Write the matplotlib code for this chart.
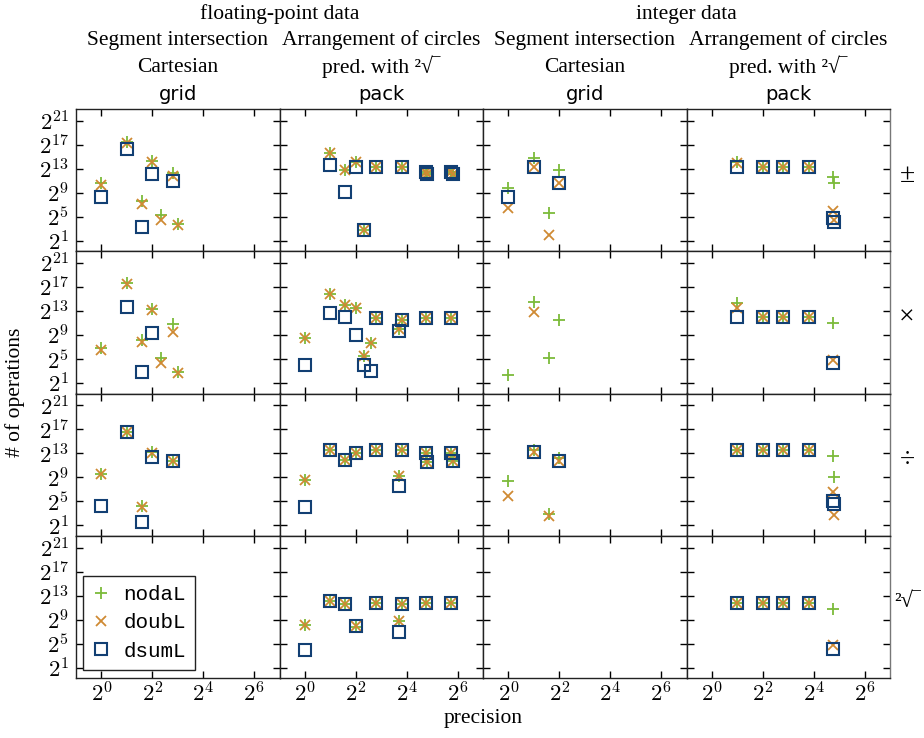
import numpy as np
import matplotlib
matplotlib.use('Agg')
import matplotlib.pyplot as plt
from matplotlib.ticker import FixedLocator, FuncFormatter, NullLocator

nan = np.nan

# operations (rows) and series
op_labels = ['±', '×', '÷', '²√‾']
op_sizes = [20, 20, 20, 16]
series_names = ['nodaL', 'doubL', 'dsumL']

# log2(# of operations), one inner list per operation row (±, ×, ÷, sqrt)
# floating-point data, segment intersection, Cartesian grid
fp_grid_prec = [1, 2, 3, 4, 5, 7, 8]
fp_grid_nodaL = [[10.6, 17.5, 7.6, 14.3, 5.3, 12.3, 3.85],
                 [6.8, 17.7, 8.2, 13.3, 5.2, 10.9, 2.9],
                 [9.6, 16.5, 4.2, 13.3, nan, 11.8, nan],
                 [nan] * 7]
fp_grid_doubL = [[10.3, 17.3, 7.2, 14.1, 4.5, 11.9, 3.6],
                 [6.5, 17.6, 7.9, 13.2, 4.3, 9.5, 2.7],
                 [9.5, 16.5, 4.0, 13.0, nan, 11.8, nan],
                 [nan] * 7]
fp_grid_dsumL = [[8.4, 16.4, 3.3, 12.2, nan, 11.0, nan],
                 [nan, 13.7, 2.9, 9.3, nan, nan, nan],
                 [4.3, 16.5, 1.6, 12.4, nan, 11.8, nan],
                 [nan] * 7]

# floating-point data, arrangement of circles, pred. with sqrt, pack
fp_pack_prec = [1, 2, 3, 4, 5, 6, 7, 13, 14, 27, 28, 54, 56]
fp_pack_nodaL = [[nan, 15.7, 12.8, 14.1, 2.9, nan, 13.3, nan, 13.3, 12.55, 12.2, 12.55, 12.1],
                 [8.55, 15.9, 13.96, 13.56, 5.6, 7.65, 11.9, 10.0, 11.6, 11.9, nan, 11.9, nan],
                 [8.5, 13.5, 11.96, 13.0, nan, nan, 13.5, 9.3, 13.5, 13.1, 11.6, 13.1, 11.7],
                 [8.15, 12.2, 11.67, 7.8, nan, nan, 11.8, 8.8, 11.67, 11.8, nan, 11.8, nan]]
fp_pack_doubL = [[nan, 15.7, 12.8, 14.1, 2.9, nan, 13.3, nan, 13.3, 12.55, 12.2, 12.55, 12.1],
                 [8.55, 15.9, 13.96, 13.56, 5.6, 7.65, 11.9, 10.0, 11.6, 11.9, nan, 11.9, nan],
                 [8.5, 13.5, 11.96, 13.0, nan, nan, 13.5, 9.3, 13.5, 13.1, 11.6, 13.1, 11.7],
                 [8.15, 12.2, 11.67, 8.0, nan, nan, 11.8, 8.8, 11.67, 11.8, nan, 11.8, nan]]
fp_pack_dsumL = [[nan, 13.7, 9.2, 13.3, 2.9, nan, 13.3, nan, 13.3, 12.55, 12.2, 12.55, 12.1],
                 [4.04, 12.7, 12.1, 9.06, 4.04, 3.03, 11.9, 9.7, 11.6, 11.9, nan, 11.9, nan],
                 [4.1, 13.5, 11.96, 13.0, nan, nan, 13.5, 7.6, 13.5, 13.1, 11.6, 13.1, 11.7],
                 [3.9, 12.2, 11.67, 8.0, nan, nan, 11.8, 6.9, 11.67, 11.8, nan, 11.8, nan]]

# integer data, segment intersection, Cartesian grid
int_grid_prec = [1, 2, 3, 4]
int_grid_nodaL = [[9.76, 14.9, 5.7, 12.8],
                  [2.35, 14.5, 5.2, 11.6],
                  [8.36, 13.5, 2.9, 12.3],
                  [nan] * 4]
int_grid_doubL = [[6.5, 13.25, 2.0, 10.7],
                  [nan, 12.8, nan, nan],
                  [5.94, 13.2, 2.6, 11.7],
                  [nan] * 4]
int_grid_dsumL = [[8.3, 13.25, nan, 10.7],
                  [nan] * 4,
                  [nan, 13.2, nan, 11.7],
                  [nan] * 4]

# integer data, arrangement of circles, pred. with sqrt, pack
int_pack_prec = [2, 4, 7, 14, 27, 28]
int_pack_nodaL = [[14.1, 13.25, 13.25, 13.25, 11.7, 10.7],
                  [14.4, 12.0, 12.0, 12.0, 11.0, nan],
                  [13.5, 13.5, 13.5, 13.5, 12.6, 9.0],
                  [11.8, 11.8, 11.8, 11.8, 10.8, nan]]
int_pack_doubL = [[14.0, 13.25, 13.25, 13.25, 5.95, 4.5],
                  [13.56, 12.0, 12.0, 12.0, 4.94, nan],
                  [13.5, 13.5, 13.5, 13.5, 6.5, 2.7],
                  [11.8, 11.8, 11.8, 11.8, 4.8, nan]]
int_pack_dsumL = [[13.25, 13.25, 13.25, 13.25, 4.8, 4.1],
                  [12.0, 12.0, 12.0, 12.0, 4.3, nan],
                  [13.5, 13.5, 13.5, 13.5, 5.1, 4.5],
                  [11.8, 11.8, 11.8, 11.8, 4.1, nan]]

columns = [
    (fp_grid_prec, [fp_grid_nodaL, fp_grid_doubL, fp_grid_dsumL]),
    (fp_pack_prec, [fp_pack_nodaL, fp_pack_doubL, fp_pack_dsumL]),
    (int_grid_prec, [int_grid_nodaL, int_grid_doubL, int_grid_dsumL]),
    (int_pack_prec, [int_pack_nodaL, int_pack_doubL, int_pack_dsumL]),
]

col_line2 = ['Segment intersection', 'Arrangement of circles',
             'Segment intersection', 'Arrangement of circles']
col_line3 = ['Cartesian', 'pred. with ²√‾', 'Cartesian', 'pred. with ²√‾']
col_line4 = ['grid', 'pack', 'grid', 'pack']

plt.rcParams['font.family'] = ['Liberation Serif', 'DejaVu Serif']
plt.rcParams['mathtext.fontset'] = 'cm'

styles = [
    dict(marker='+', color='#7cbb3a', ms=9, mew=1.3, ls='none'),
    dict(marker='x', color='#cf8a33', ms=6.5, mew=1.3, ls='none'),
    dict(marker='s', mec='#123f73', mfc='none', ms=9, mew=1.5, ls='none'),
]

W, H = 924, 738
left, right, top, bottom = 76, 890, 109, 678
fig = plt.figure(figsize=(W / 100, H / 100), dpi=100)
axs = fig.subplots(4, 4, sharex=True, sharey=True,
                   gridspec_kw=dict(left=left / W, right=right / W,
                                    top=1 - top / H, bottom=1 - bottom / H,
                                    wspace=0, hspace=0))

fmt = FuncFormatter(lambda v, p: r'$2^{%d}$' % round(np.log2(v)))
for c, (prec, ser) in enumerate(columns):
    for r in range(4):
        ax = axs[r, c]
        for s in range(3):
            y = np.array(ser[s][r], dtype=float)
            ok = ~np.isnan(y)
            ax.plot(np.array(prec)[ok], 2.0 ** y[ok], label=series_names[s], **styles[s])
        ax.set_xscale('log', base=2)
        ax.set_yscale('log', base=2)

for ax in axs.flat:
    ax.set_xlim(2 ** -1, 2 ** 7)
    ax.set_ylim(2 ** -0.72, 2 ** 23)
    ax.xaxis.set_major_locator(FixedLocator([2 ** k for k in [0, 2, 4, 6]]))
    ax.yaxis.set_major_locator(FixedLocator([2 ** k for k in [1, 5, 9, 13, 17, 21]]))
    ax.xaxis.set_minor_locator(NullLocator())
    ax.yaxis.set_minor_locator(NullLocator())
    ax.xaxis.set_major_formatter(fmt)
    ax.yaxis.set_major_formatter(fmt)
    ax.tick_params(direction='in', top=True, right=True, length=5, width=1,
                   labelsize=16.5)
    ax.tick_params(axis='x', pad=3)
    ax.tick_params(axis='y', pad=5)
    for sp in ax.spines.values():
        sp.set_linewidth(1.0)
        sp.set_color('#222222')
    ax.label_outer()

# outer right edge is drawn lighter in the reference
for ax in axs[:, 3]:
    ax.spines['right'].set_color('#777777')

leg = axs[3, 0].legend(loc='lower left', bbox_to_anchor=(0.034, 0.056), borderaxespad=0,
                       numpoints=1, prop=dict(family='Liberation Mono', size=15),
                       fancybox=False, edgecolor='#222222', framealpha=1,
                       handlelength=0.8, handletextpad=0.7, borderpad=0.45,
                       labelspacing=0.45)
leg.get_frame().set_linewidth(1.0)

# column headers
col_cx = [(left + (right - left) * (i + 0.5) / 4) / W for i in range(4)]
fig.text((left + (right - left) * 0.25) / W, 1 - 14 / H, 'floating-point data',
         ha='center', va='center', fontsize=15.5)
fig.text((left + (right - left) * 0.75) / W, 1 - 14 / H, 'integer data',
         ha='center', va='center', fontsize=15.5)
for i in range(4):
    fig.text(col_cx[i], 1 - 40 / H, col_line2[i], ha='center', va='center', fontsize=15.5)
    fig.text(col_cx[i], 1 - 67 / H, col_line3[i], ha='center', va='center', fontsize=15.5)
    fig.text(col_cx[i], 1 - 94 / H, col_line4[i], ha='center', va='center', fontsize=14,
             family='DejaVu Sans')

# row labels
row_h = (bottom - top) / 4
for r in range(4):
    fig.text(907 / W, 1 - (top + row_h * (r + 0.47)) / H, op_labels[r],
             ha='center', va='center', fontsize=op_sizes[r])

fig.text((left + right) / 2 / W, 1 - 719 / H, 'precision', ha='center', va='center', fontsize=15.5)
fig.text(15 / W, 1 - 392 / H, '# of operations', ha='center', va='center',
         rotation=90, fontsize=15.5)

fig.savefig('out.png', dpi=100)
